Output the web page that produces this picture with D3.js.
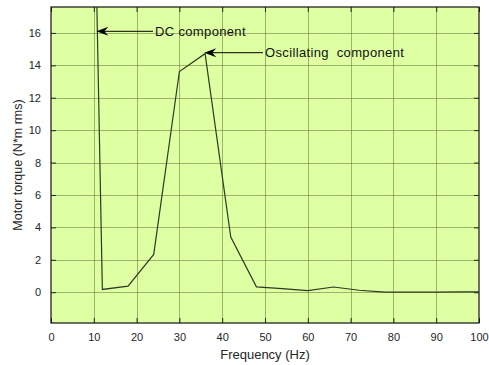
<!DOCTYPE html>
<html>
<head>
<meta charset="utf-8">
<script src="https://cdn.jsdelivr.net/npm/d3@7"></script>
<style>
  body { margin: 0; background: #fff; }
  text { font-family: "Liberation Sans", Arial, sans-serif; white-space: pre; }
</style>
</head>
<body>
<svg id="chart" width="489" height="365"></svg>
<script>
// spectrum of motor torque
const freqs = [6, 12, 18, 24, 30, 36, 42, 48, 54, 60, 66, 72, 78, 84, 90, 96, 100];
const torque = [82, 0.17, 0.37, 2.33, 13.62, 14.72, 3.4, 0.33, 0.22, 0.1, 0.32, 0.12, 0.01, 0.0, 0.01, 0.02, 0.02];
const xTicks = [0, 10, 20, 30, 40, 50, 60, 70, 80, 90, 100];
const yTicks = [0, 2, 4, 6, 8, 10, 12, 14, 16];
const notes = [
  { text: 'DC component', at: [10.6, 16.1], textX: 153 },
  { text: 'Oscillating  component', at: [35.8, 14.78], textX: 263 },
];

const width = 489, height = 365;
const margin = { top: 7, right: 10, bottom: 42, left: 51 };
const svg = d3.select('#chart');

const x = d3.scaleLinear().domain([0, 100]).range([margin.left, width - margin.right]);
const y = d3.scaleLinear().domain([-1.9, 17.6]).range([height - margin.bottom, margin.top]);

svg.append('rect')
  .attr('x', x(0)).attr('y', y(17.6))
  .attr('width', x(100) - x(0)).attr('height', y(-1.9) - y(17.6))
  .attr('fill', '#dfffa3');

svg.append('clipPath').attr('id', 'plot')
  .append('rect')
  .attr('x', x(0)).attr('y', y(17.6))
  .attr('width', x(100) - x(0)).attr('height', y(-1.9) - y(17.6));

// grid
const grid = svg.append('g').attr('stroke', '#66743f').attr('stroke-opacity', 0.55).attr('stroke-width', 1);
grid.selectAll('.gx').data(xTicks.slice(1, -1)).join('line')
  .attr('x1', (d) => Math.round(x(d)) + 0.5).attr('x2', (d) => Math.round(x(d)) + 0.5)
  .attr('y1', y(17.6)).attr('y2', y(-1.9));
grid.selectAll('.gy').data(yTicks).join('line')
  .attr('y1', (d) => Math.round(y(d)) + 0.5).attr('y2', (d) => Math.round(y(d)) + 0.5)
  .attr('x1', x(0)).attr('x2', x(100));

// axes with inward ticks
const tickFmt = d3.format('d');
svg.append('g')
  .attr('transform', `translate(0,${y(-1.9)})`)
  .call(d3.axisBottom(x).tickValues(xTicks).tickSizeInner(-5).tickSizeOuter(0).tickPadding(10).tickFormat(tickFmt))
  .call((g) => g.select('.domain').remove());
svg.append('g')
  .attr('transform', `translate(0,${y(17.6)})`)
  .call(d3.axisTop(x).tickValues(xTicks).tickSizeInner(-5).tickSizeOuter(0).tickFormat(''))
  .call((g) => g.select('.domain').remove());
svg.append('g')
  .attr('transform', `translate(${x(0)},0)`)
  .call(d3.axisLeft(y).tickValues(yTicks).tickSizeInner(-5).tickSizeOuter(0).tickPadding(10).tickFormat(tickFmt))
  .call((g) => g.select('.domain').remove());
svg.append('g')
  .attr('transform', `translate(${x(100)},0)`)
  .call(d3.axisRight(y).tickValues(yTicks).tickSizeInner(-5).tickSizeOuter(0).tickFormat(''))
  .call((g) => g.select('.domain').remove());

svg.selectAll('.tick text').attr('font-size', 11).attr('fill', '#262626')
  .attr('font-family', '"Liberation Sans", Arial, sans-serif');
svg.selectAll('.tick line').attr('stroke', '#262626');

svg.append('rect')
  .attr('x', x(0)).attr('y', y(17.6))
  .attr('width', x(100) - x(0)).attr('height', y(-1.9) - y(17.6))
  .attr('fill', 'none').attr('stroke', '#111').attr('stroke-width', 1.2);

// spectrum line
const line = d3.line().x((d, i) => x(freqs[i])).y((d) => y(d));
svg.append('path')
  .datum(torque)
  .attr('clip-path', 'url(#plot)')
  .attr('d', line)
  .attr('fill', 'none')
  .attr('stroke', '#2f3a24')
  .attr('stroke-width', 1.2);

// annotations
notes.forEach((n) => {
  const tx = x(n.at[0]), ty = y(n.at[1]);
  const g = svg.append('g');
  g.append('line')
    .attr('x1', tx + 6).attr('y1', ty).attr('x2', n.textX).attr('y2', ty)
    .attr('stroke', '#000').attr('stroke-width', 1);
  g.append('path')
    .attr('d', `M${tx},${ty} L${tx + 12},${ty - 4.5} L${tx + 8},${ty} L${tx + 12},${ty + 4.5} Z`)
    .attr('fill', '#000');
  g.append('text')
    .attr('x', n.textX + 2).attr('y', ty + 4.5)
    .attr('font-size', 13).attr('letter-spacing', 0.35).attr('fill', '#111')
    .text(n.text);
});

// axis titles
svg.append('text')
  .attr('x', (x(0) + x(100)) / 2).attr('y', 359)
  .attr('text-anchor', 'middle').attr('font-size', 13).attr('fill', '#262626')
  .text('Frequency (Hz)');
svg.append('text')
  .attr('transform', `translate(22,${(y(-1.9) + y(17.6)) / 2}) rotate(-90)`)
  .attr('text-anchor', 'middle').attr('font-size', 12.5).attr('fill', '#262626')
  .text('Motor torque (N*m rms)');
</script>
</body>
</html>
